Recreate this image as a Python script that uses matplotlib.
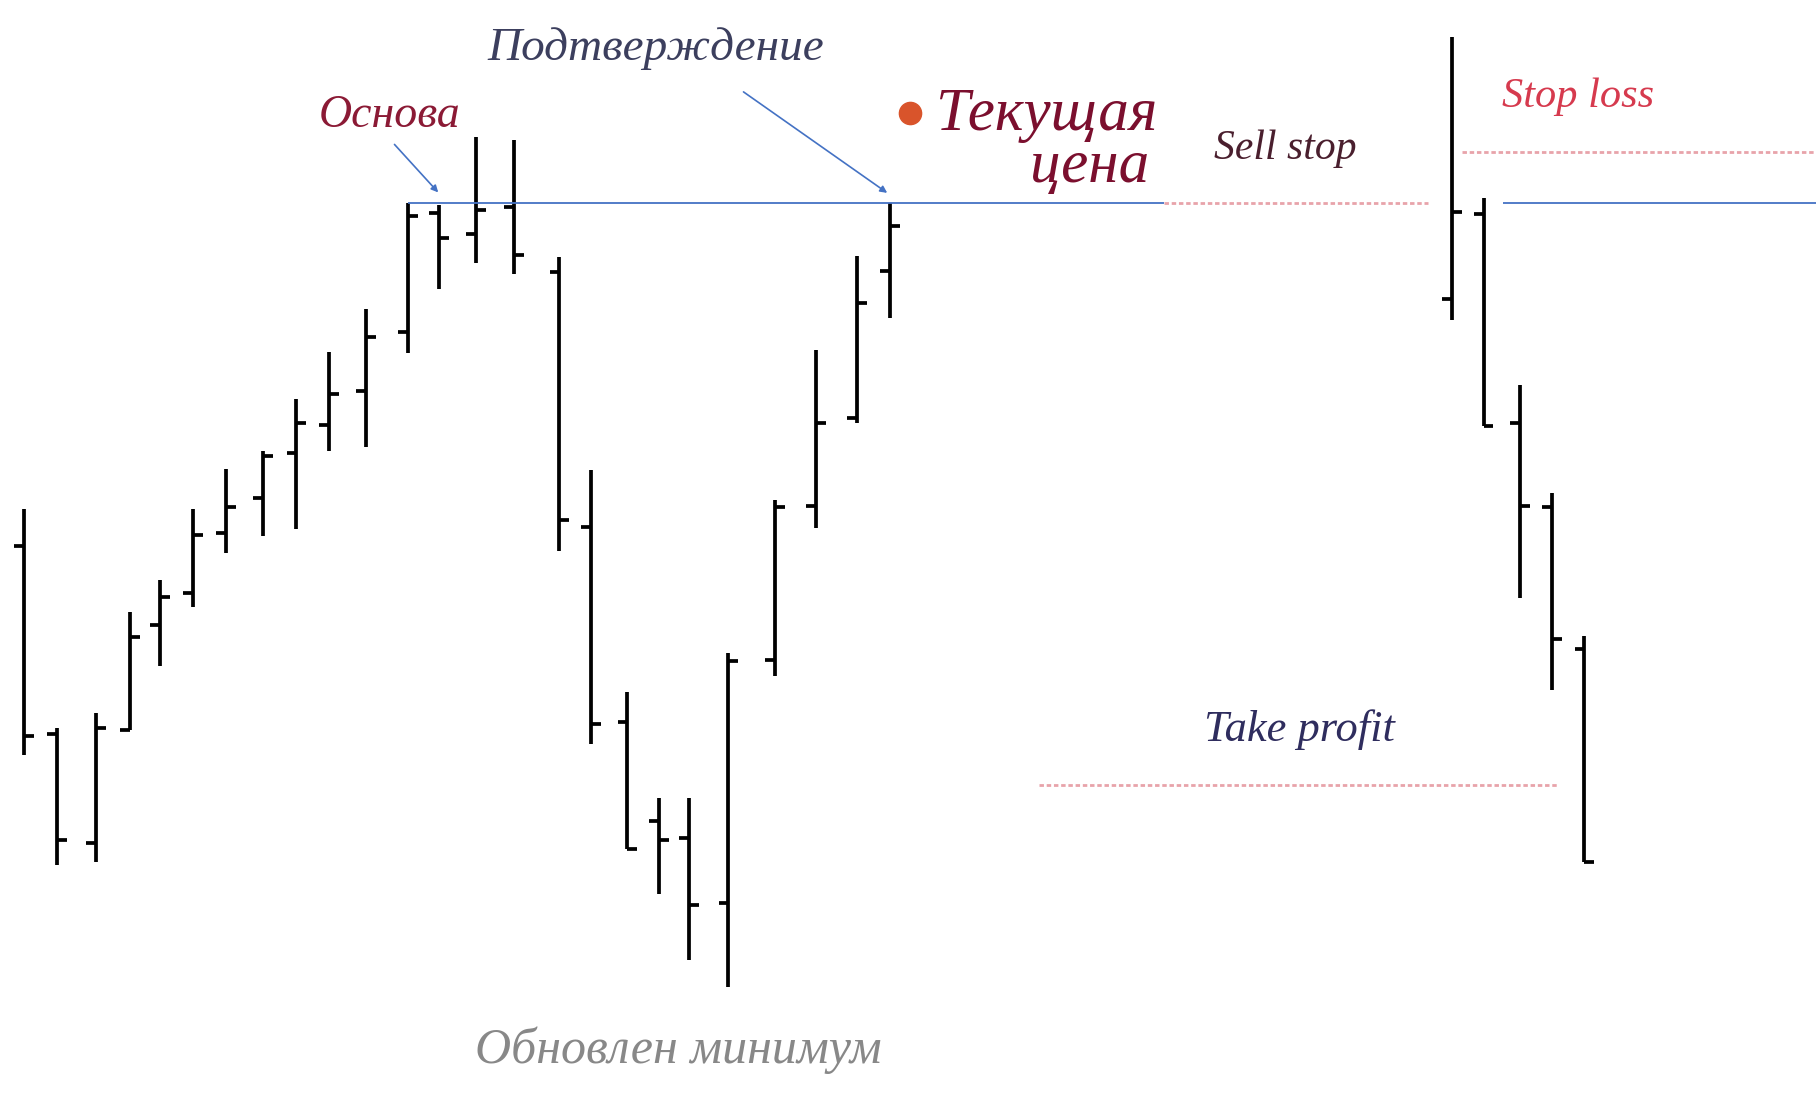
import matplotlib
matplotlib.use("Agg")
import matplotlib.pyplot as plt
import numpy as np

# ---- data (time position, OHLC prices) ----
bar_t = [2.07, 4.90, 8.30, 11.25, 13.80, 16.65, 19.50, 22.70, 25.60, 28.40,
         31.60, 35.20, 37.90, 41.10, 44.40, 48.30, 51.00, 54.17, 56.90, 59.50,
         62.90, 66.90, 70.47, 74.00, 76.86, 125.36, 128.10, 131.26, 134.00, 136.80]
opens = [48.6, 32.4, 23.0, 32.7, 41.8, 44.6, 49.8, 52.8, 56.7, 59.1,
         62.0, 67.1, 77.4, 75.6, 77.9, 72.3, 50.3, 33.4, 24.9, 23.4,
         17.8, 38.8, 52.1, 59.7, 72.4, 70.0, 77.3, 59.3, 52.0, 39.7]
highs = [51.8, 32.9, 34.2, 42.9, 45.7, 51.8, 55.3, 56.8, 61.3, 65.4,
         69.1, 78.3, 78.1, 84.0, 83.7, 73.6, 55.2, 36.0, 26.9, 26.9,
         39.4, 52.6, 65.6, 73.7, 78.3, 92.6, 78.7, 62.5, 53.2, 40.9]
lows = [30.6, 21.1, 21.3, 32.7, 38.3, 43.4, 48.0, 49.5, 50.1, 56.8,
        57.2, 65.3, 70.8, 73.1, 72.1, 48.2, 31.5, 22.5, 18.6, 12.9,
        10.5, 37.4, 50.2, 59.3, 68.3, 68.2, 59.0, 44.1, 36.2, 21.3]
closes = [32.2, 23.2, 32.9, 40.8, 44.2, 49.6, 52.0, 56.4, 59.3, 61.8,
          66.7, 77.1, 75.2, 77.7, 73.8, 50.9, 33.3, 22.5, 23.2, 17.6,
          38.7, 52.0, 59.3, 69.6, 76.3, 77.5, 59.0, 52.1, 40.6, 21.3]

# key levels
base_level = 78.3        # Основа / Sell stop level
stop_loss = 82.7
take_profit = 28.0

fig = plt.figure(figsize=(18.16, 11.09), dpi=100)
ax = fig.add_axes([0, 0, 1, 1])
ax.set_xlim(0, 156.8)
ax.set_ylim(0, 95.8)
ax.axis("off")

t = np.array(bar_t)
tick = 0.85
lw = 2.7
ax.vlines(t, lows, highs, color="black", lw=lw, capstyle="butt")
ax.hlines(opens, t - tick, t, color="black", lw=lw, capstyle="butt")
ax.hlines(closes, t, t + tick, color="black", lw=lw, capstyle="butt")

blue = "#4472C4"
pink = "#E8A3AA"
ax.hlines(base_level, 35.2, 100.5, color=blue, lw=1.3)
ax.hlines(base_level, 129.8, 156.8, color=blue, lw=1.3)
ax.plot([100.5, 123.3], [base_level, base_level], color=pink, lw=2.0, dashes=(1.6, 1.0))
ax.plot([126.2, 156.8], [stop_loss, stop_loss], color=pink, lw=2.0, dashes=(1.6, 1.0))
ax.plot([89.7, 134.6], [take_profit, take_profit], color=pink, lw=2.0, dashes=(1.6, 1.0))

font = dict(family="Liberation Serif", style="italic")

ax.text(33.65, 84.8, "Основа", color="#8B1A35", fontsize=33, ha="center", va="baseline", **font)
ax.annotate("", xy=(38.0, 79.0), xytext=(33.9, 83.5),
            arrowprops=dict(arrowstyle="-|>", color=blue, lw=1.2, mutation_scale=10))
ax.text(56.65, 90.6, "Подтверждение", color="#3C3F5E", fontsize=34, ha="center", va="baseline", **font)
ax.annotate("", xy=(76.8, 79.0), xytext=(64.0, 88.0),
            arrowprops=dict(arrowstyle="-|>", color=blue, lw=1.2, mutation_scale=10))
ax.plot([78.6], [86.0], "o", color="#D9542B", ms=16)
ax.text(80.8, 84.6, "Текущая", color="#7B0F2E", fontsize=44, ha="left", va="baseline", **font)
ax.text(99.3, 80.1, "цена", color="#7B0F2E", fontsize=44, ha="right", va="baseline", **font)
ax.text(104.8, 82.1, "Sell stop", color="#4A1F2E", fontsize=30, ha="left", va="baseline", **font)
ax.text(129.7, 86.6, "Stop loss", color="#D63A4E", fontsize=30.5, ha="left", va="baseline", **font)
ax.text(104.0, 31.8, "Take profit", color="#2F2D5E", fontsize=32, ha="left", va="baseline", **font)
ax.text(41.0, 4.0, "Обновлен минимум", color="#888888", fontsize=36, ha="left", va="baseline", **font)

fig.savefig("out.png", dpi=100, facecolor="white")
